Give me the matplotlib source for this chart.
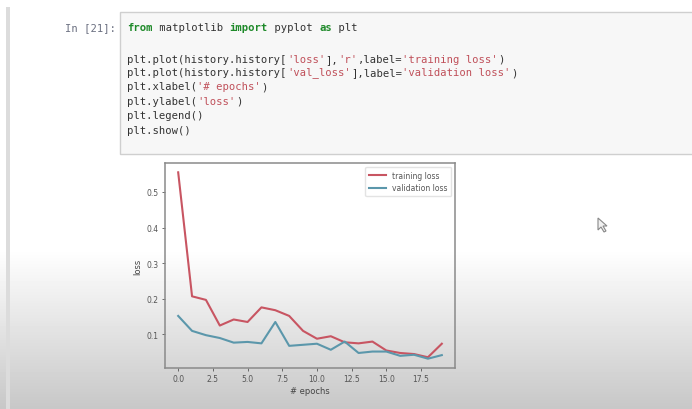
import numpy as np
import matplotlib
matplotlib.use("Agg")
import matplotlib.pyplot as plt
from matplotlib.patches import Rectangle, Polygon

# ---- data ----
epochs = list(range(20))
training_loss = [0.555, 0.207, 0.197, 0.125, 0.142, 0.135, 0.176, 0.168, 0.152, 0.110,
                 0.088, 0.095, 0.078, 0.075, 0.080, 0.055, 0.048, 0.045, 0.036, 0.074]
validation_loss = [0.152, 0.110, 0.098, 0.090, 0.077, 0.079, 0.075, 0.135, 0.068, 0.071,
                   0.074, 0.057, 0.080, 0.048, 0.052, 0.052, 0.040, 0.043, 0.032, 0.042]
prompt = "In [21]:"
code_lines = [
    [("from", "kw"), (" matplotlib ", "n"), ("import", "kw"), (" pyplot ", "n"), ("as", "kw"), (" plt", "n")],
    [],
    [("plt.plot(history.history[", "n"), ("'loss'", "s"), ("],", "n"), ("'r'", "s"), (",label=", "n"), ("'training loss'", "s"), (")", "n")],
    [("plt.plot(history.history[", "n"), ("'val_loss'", "s"), ("],label=", "n"), ("'validation loss'", "s"), (")", "n")],
    [("plt.xlabel(", "n"), ("'# epochs'", "s"), (")", "n")],
    [("plt.ylabel(", "n"), ("'loss'", "s"), (")", "n")],
    [("plt.legend()", "n")],
    [("plt.show()", "n")],
]

W, H = 692, 410
fig = plt.figure(figsize=(W / 100, H / 100), dpi=100)

# background with vertical fade to grey
bg = fig.add_axes([0, 0, 1, 1], zorder=0)
bg.set_xlim(0, W)
bg.set_ylim(H, 0)
bg.axis("off")
ys = np.arange(H)
shade = np.where(ys < 250, 1.0, 1.0 - (ys - 250) / (H - 250) * 0.22)
grad = np.repeat(shade[:, None], 2, axis=1)
bg.imshow(grad, cmap="gray", vmin=0, vmax=1, extent=[0, W, H, 0], aspect="auto", zorder=0)

# left cell bar
bg.add_patch(Rectangle((6, 8), 4, H - 8, facecolor="#dcdcdc", edgecolor="none", zorder=1))
# code cell box
bg.add_patch(Rectangle((120, 13), W - 118, 142, facecolor="#f7f7f7", edgecolor="#cfcfcf", lw=1, zorder=1))

mono = "DejaVu Sans Mono"
fs = 7.6
cw = 6.4
bg.text(116, 28, prompt, family=mono, fontsize=fs, color="#6a6f80", ha="right", va="center", zorder=3)
colors = {"kw": "#1f8a2a", "n": "#333333", "s": "#c0505a"}
line_y = [28, 44, 60, 73, 87, 102, 116, 131]
for ly, segs in zip(line_y, code_lines):
    col = 0
    for txt, kind in segs:
        bg.text(127 + col * cw, ly, txt, family=mono, fontsize=fs, color=colors[kind],
                fontweight="bold" if kind == "kw" else "normal", ha="left", va="center", zorder=3)
        col += len(txt)

# mouse cursor
bg.add_patch(Polygon([[598, 219], [598, 231], [601, 228], [604, 233], [606, 232], [603, 227], [607, 227]],
                     closed=True, facecolor="#f0f0f0", edgecolor="#888888", lw=0.8, zorder=3))

# chart
ax = fig.add_axes([165 / W, 1 - 369 / H, 290 / W, 205 / H], zorder=2)
ax.set_facecolor("none")
ax.plot(epochs, training_loss, color="#c85562", lw=1.5, label="training loss")
ax.plot(epochs, validation_loss, color="#5b97ab", lw=1.5, label="validation loss")
ax.set_xlabel("# epochs", fontsize=6, color="#444444", labelpad=2)
ax.set_ylabel("loss", fontsize=6, color="#444444", labelpad=3)
ax.set_xticks([0, 2.5, 5, 7.5, 10, 12.5, 15, 17.5])
ax.set_yticks([0.1, 0.2, 0.3, 0.4, 0.5])
ax.tick_params(labelsize=5.5, colors="#555555", length=2.5, width=0.6, pad=2)
for sp in ax.spines.values():
    sp.set_color("#8a8a8a")
    sp.set_linewidth(1.1)
leg = ax.legend(fontsize=5.5, loc="upper right", frameon=True, handlelength=2.2, borderpad=0.5)
leg.get_frame().set_edgecolor("#dddddd")
for t in leg.get_texts():
    t.set_color("#555555")

fig.savefig("out.png", dpi=100)
